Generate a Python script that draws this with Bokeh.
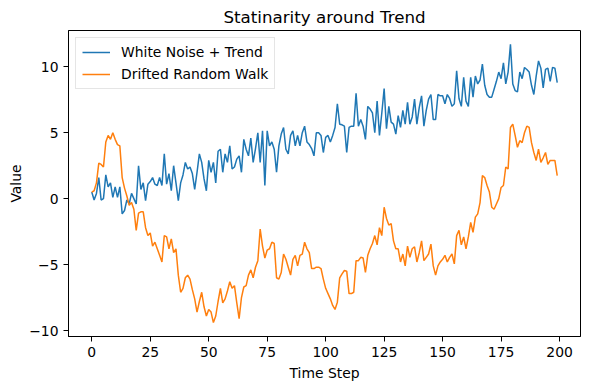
from bokeh.plotting import figure
from bokeh.models import FixedTicker, Range1d
from bokeh.embed import file_html
from bokeh.resources import INLINE

steps = list(range(200))

white_noise_trend = [
    0.5, -0.1, 0.4, 1.6, -0.1, 0.0, 1.8, 0.9, 1.2, 0.1,
    0.9, 0.1, 0.9, -1.15, -0.9, -0.1, -0.4, 0.4, 0.0, -0.4,
    2.5, 0.7, 1.2, -0.15, 1.1, 1.3, 1.6, 1.1, 1.0, 1.6,
    1.0, 3.4, 1.1, 1.9, 0.6, 2.5, 1.2, -0.15, 1.2, 1.8,
    2.75, 2.25, 2.4, 1.9, 0.7, 2.0, 3.4, 2.75, 1.5, 0.6,
    2.9, 2.0, 2.75, 1.2, 3.6, 3.75, 2.0, 3.4, 2.75, 4.0,
    2.25, 2.4, 3.0, 3.25, 2.0, 4.5, 3.75, 3.25, 4.6, 2.75,
    3.8, 5.0, 2.75, 5.15, 1.0, 5.15, 4.0, 4.3, 3.75, 2.0,
    4.0, 4.9, 5.4, 3.75, 3.4, 4.8, 5.15, 4.0, 4.8, 4.0,
    5.0, 5.5, 4.3, 4.1, 3.8, 3.25, 5.0, 5.0, 4.8, 3.5,
    4.65, 4.8, 4.3, 4.8, 5.4, 7.2, 5.65, 5.6, 5.5, 3.5,
    5.4, 5.5, 5.5, 8.0, 5.5, 6.0, 5.5, 4.5, 7.0, 6.8,
    6.5, 5.0, 7.4, 4.8, 6.5, 8.35, 5.3, 7.0, 5.8, 5.65,
    4.9, 6.3, 5.4, 6.7, 5.65, 7.3, 5.65, 6.2, 7.55, 5.65,
    6.9, 7.8, 5.5, 6.7, 7.55, 7.9, 6.0, 6.0, 7.9, 7.8,
    7.8, 7.2, 7.9, 7.6, 7.0, 7.2, 9.7, 7.6, 7.0, 9.2,
    7.4, 7.0, 9.2, 7.7, 9.3, 8.7, 9.0, 10.2, 8.6, 7.9,
    7.7, 7.7, 8.3, 8.9, 9.6, 9.1, 10.3, 8.7, 9.6, 11.7,
    8.7, 8.2, 8.1, 9.6, 9.1, 9.95, 9.8, 9.6, 8.6, 7.9,
    9.3, 10.45, 9.9, 8.4, 9.8, 9.9, 8.9, 9.95, 9.9, 8.8,
]

drifted_random_walk = [
    0.5, 0.6, 1.2, 2.7, 2.6, 2.4, 4.3, 4.8, 4.5, 5.0,
    4.5, 4.1, 4.0, 1.6, 0.8, 0.2, -0.5, -0.3, -0.8, -2.4,
    -1.1, -1.0, -1.0, -2.2, -2.8, -2.6, -3.6, -3.3, -3.8, -4.3,
    -4.8, -2.8, -2.9, -3.8, -3.05, -4.1, -3.8, -5.8, -7.1, -6.8,
    -6.0, -5.8, -6.1, -6.9, -7.6, -8.6, -7.8, -7.1, -8.2, -8.9,
    -8.4, -8.6, -9.4, -8.9, -7.8, -6.8, -7.9, -7.6, -7.0, -6.3,
    -6.8, -6.6, -7.9, -9.1, -7.5, -6.7, -6.6, -5.8, -5.4, -6.0,
    -5.2, -4.7, -2.3, -3.6, -4.5, -3.9, -3.8, -3.3, -3.4, -6.0,
    -6.1, -5.6, -4.2, -4.6, -5.2, -5.8, -4.6, -4.3, -5.1, -4.3,
    -4.2, -3.3, -3.8, -4.1, -5.3, -5.3, -5.2, -5.2, -5.3, -6.1,
    -6.8, -7.2, -7.6, -8.1, -8.4, -7.85, -6.0, -5.7, -5.45, -5.5,
    -7.2, -7.2, -7.1, -4.7, -4.7, -4.45, -4.5, -5.6, -4.3, -3.8,
    -3.4, -2.8, -3.5, -2.2, -2.8, -0.65, -1.5, -2.0, -1.9, -3.2,
    -3.8, -3.8, -4.8, -4.2, -5.1, -3.6, -4.45, -3.8, -3.65, -4.8,
    -4.1, -3.2, -4.7, -4.45, -4.2, -3.45, -5.1, -5.8, -5.1, -4.8,
    -4.6, -4.3, -4.8, -4.45, -4.2, -4.95, -2.8, -2.4, -3.5, -2.9,
    -3.8, -2.9, -1.8, -2.55, -1.4, -1.15, -0.3, 1.75, 1.6, 1.0,
    0.5, -0.65, -0.8, -0.4, 0.0, 0.85, 1.0, 2.4, 2.25, 5.4,
    5.65, 4.8, 3.9, 4.4, 4.25, 5.0, 5.5, 5.4, 4.25, 3.5,
    2.9, 3.75, 2.75, 3.1, 3.5, 2.6, 2.9, 2.9, 2.9, 1.75,
]

x_ticks = [0, 25, 50, 75, 100, 125, 150, 175, 200]
y_ticks = [-10, -5, 0, 5, 10]
y_tick_labels = {-10: "\u221210", -5: "\u22125", 0: "0", 5: "5", 10: "10"}

FONT = "DejaVu Sans"

p = figure(
    width=590, height=390,
    output_backend="svg", toolbar_location=None,
    x_range=Range1d(-9.95, 208.95), y_range=Range1d(-10.455, 12.755),
    min_border_left=68, min_border_right=10, min_border_top=30, min_border_bottom=54,
    title="Statinarity around Trend",
)

p.line(steps, white_noise_trend, line_color="#1f77b4", line_width=1.5,
       legend_label="White Noise + Trend")
p.line(steps, drifted_random_walk, line_color="#ff7f0e", line_width=1.5,
       legend_label="Drifted Random Walk")

p.title.text_font = FONT
p.title.text_font_size = "16.7px"
p.title.text_font_style = "normal"
p.title.align = "center"
p.title.text_color = "black"
p.title.standoff = 8

p.xgrid.visible = False
p.ygrid.visible = False
p.outline_line_color = "black"
p.outline_line_alpha = 1.0
p.outline_line_width = 1

p.xaxis.ticker = FixedTicker(ticks=x_ticks)
p.yaxis.ticker = FixedTicker(ticks=y_ticks)
p.yaxis.major_label_overrides = y_tick_labels

for ax in (p.xaxis[0], p.yaxis[0]):
    ax.major_tick_in = 0
    ax.major_tick_out = 5
    ax.minor_tick_in = 0
    ax.minor_tick_out = 0
    ax.axis_line_color = "black"
    ax.major_tick_line_color = "black"
    ax.major_label_text_font = FONT
    ax.major_label_text_font_size = "13.9px"
    ax.major_label_text_color = "black"
    ax.major_label_standoff = 5
    ax.axis_label_text_font = FONT
    ax.axis_label_text_font_size = "13.9px"
    ax.axis_label_text_font_style = "normal"
    ax.axis_label_text_color = "black"

p.xaxis.axis_label = "Time Step"
p.yaxis.axis_label = "Value"
p.xaxis.axis_label_standoff = 5
p.yaxis.axis_label_standoff = 2

lg = p.legend[0]
lg.location = "top_left"
lg.margin = 7
lg.padding = 6
lg.spacing = 6
lg.label_height = 16
lg.glyph_height = 16
lg.glyph_width = 28
lg.label_standoff = 11
lg.label_text_font = FONT
lg.label_text_font_size = "13.9px"
lg.label_text_color = "black"
lg.border_line_color = "#cccccc"
lg.border_line_width = 1
lg.background_fill_alpha = 0.8

open("out.html", "w").write(file_html(p, INLINE))
